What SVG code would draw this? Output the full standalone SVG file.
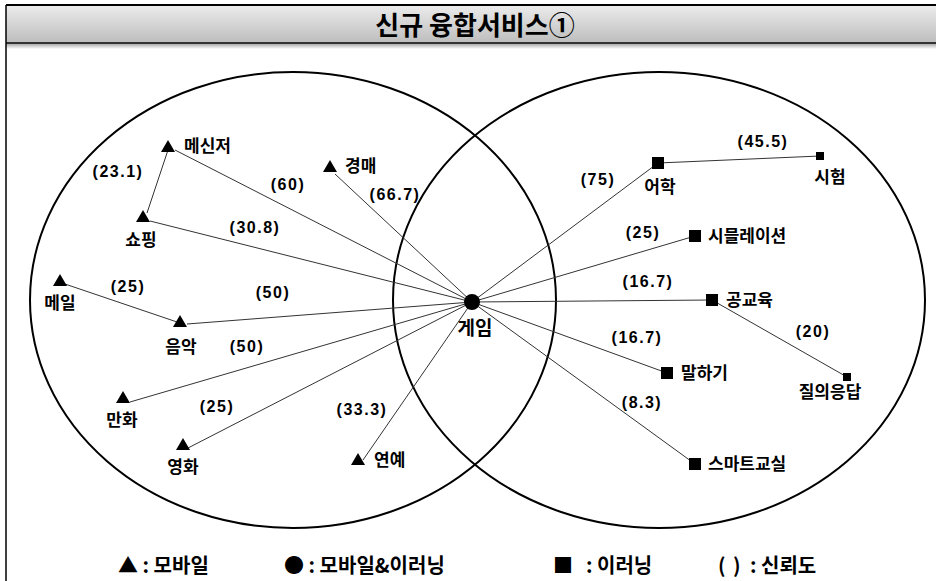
<svg xmlns="http://www.w3.org/2000/svg" xmlns:xlink="http://www.w3.org/1999/xlink" width="936" height="581" viewBox="0 0 936 581">
<defs>
<linearGradient id="bar" x1="0" y1="0" x2="0" y2="1">
<stop offset="0" stop-color="#ececec"/>
<stop offset="1" stop-color="#bdbdbd"/>
</linearGradient>
<linearGradient id="shadow" x1="0" y1="0" x2="0" y2="1">
<stop offset="0" stop-color="#9a9a9a"/>
<stop offset="1" stop-color="#ffffff"/>
</linearGradient>
<path id="tri" d="M0,-6 L7,6 L-7,6 Z" fill="#000"/>
<rect id="sq" x="-6" y="-6" width="12" height="12" fill="#000"/>
<rect id="sqs" x="-4" y="-4" width="8" height="8" fill="#000"/>
</defs>
<style>
text{font-family:"Noto Sans CJK KR","Liberation Sans",sans-serif;font-weight:bold;fill:#000}
.lbl{font-size:17px}
.num{font-size:16px;letter-spacing:1.5px;font-family:"Liberation Sans","Noto Sans CJK KR",sans-serif}
.leg{font-size:20px}
.ln{stroke:#333;stroke-width:1;fill:none}
.ell{stroke:#000;stroke-width:2;fill:none}
</style>
<rect width="936" height="581" fill="#fff"/>
<g id="title">
<rect x="6" y="5" width="932" height="38" fill="url(#bar)"/>
<rect x="6" y="43" width="932" height="6" fill="url(#shadow)"/>
<line x1="6" y1="5" x2="936" y2="5" stroke="#000" stroke-width="2"/>
<line x1="6" y1="43" x2="936" y2="43" stroke="#333" stroke-width="2"/>
<line x1="6" y1="5" x2="6" y2="581" stroke="#000" stroke-width="1.5"/>
<text x="475" y="35" text-anchor="middle" style="font-size:26px">신규 융합서비스①</text>
</g>
<g id="venn">
<ellipse class="ell" cx="293" cy="300" rx="263" ry="228"/>
<ellipse class="ell" cx="659" cy="300" rx="266" ry="228"/>
</g>
<g id="connectors">
<line class="ln" x1="175" y1="150" x2="472" y2="302"/>
<line class="ln" x1="168" y1="150" x2="147" y2="213"/>
<line class="ln" x1="335" y1="174" x2="472" y2="302"/>
<line class="ln" x1="150" y1="221" x2="472" y2="302"/>
<line class="ln" x1="62" y1="283" x2="180" y2="323"/>
<line class="ln" x1="187" y1="324" x2="472" y2="302"/>
<line class="ln" x1="130" y1="402" x2="472" y2="302"/>
<line class="ln" x1="188" y1="448" x2="472" y2="302"/>
<line class="ln" x1="363" y1="460" x2="472" y2="302"/>
<line class="ln" x1="658" y1="163" x2="472" y2="302"/>
<line class="ln" x1="658" y1="163" x2="820" y2="156"/>
<line class="ln" x1="695" y1="236" x2="472" y2="302"/>
<line class="ln" x1="712" y1="300" x2="472" y2="302"/>
<line class="ln" x1="712" y1="300" x2="847" y2="377"/>
<line class="ln" x1="667" y1="373" x2="472" y2="302"/>
<line class="ln" x1="695" y1="464" x2="472" y2="302"/>
</g>
<g id="labels">
<text class="num" x="118" y="177" text-anchor="middle">(23.1)</text>
<text class="num" x="288" y="190" text-anchor="middle">(60)</text>
<text class="num" x="395" y="200" text-anchor="middle">(66.7)</text>
<text class="num" x="255" y="233" text-anchor="middle">(30.8)</text>
<text class="num" x="128" y="292" text-anchor="middle">(25)</text>
<text class="num" x="273" y="298" text-anchor="middle">(50)</text>
<text class="num" x="247" y="352" text-anchor="middle">(50)</text>
<text class="num" x="217" y="412" text-anchor="middle">(25)</text>
<text class="num" x="362" y="415" text-anchor="middle">(33.3)</text>
<text class="num" x="598" y="185" text-anchor="middle">(75)</text>
<text class="num" x="763" y="147" text-anchor="middle">(45.5)</text>
<text class="num" x="643" y="238" text-anchor="middle">(25)</text>
<text class="num" x="648" y="287" text-anchor="middle">(16.7)</text>
<text class="num" x="813" y="337" text-anchor="middle">(20)</text>
<text class="num" x="637" y="343" text-anchor="middle">(16.7)</text>
<text class="num" x="642" y="408" text-anchor="middle">(8.3)</text>
</g>
<g id="n-game"><circle cx="472" cy="302" r="8" fill="#000"/><text class="lbl" x="475" y="335" text-anchor="middle" style="font-size:19px">게임</text></g>
<g id="n-messenger"><use xlink:href="#tri" x="168" y="146"/><text class="lbl" x="184" y="152">메신저</text></g>
<g id="n-auction"><use xlink:href="#tri" x="330" y="166"/><text class="lbl" x="345" y="172">경매</text></g>
<g id="n-shopping"><use xlink:href="#tri" x="143" y="216"/><text class="lbl" x="141" y="246" text-anchor="middle">쇼핑</text></g>
<g id="n-mail"><use xlink:href="#tri" x="60" y="280"/><text class="lbl" x="60" y="309" text-anchor="middle">메일</text></g>
<g id="n-music"><use xlink:href="#tri" x="180" y="321"/><text class="lbl" x="181" y="353" text-anchor="middle">음악</text></g>
<g id="n-comic"><use xlink:href="#tri" x="123" y="397"/><text class="lbl" x="122" y="426" text-anchor="middle">만화</text></g>
<g id="n-movie"><use xlink:href="#tri" x="183" y="444"/><text class="lbl" x="183" y="473" text-anchor="middle">영화</text></g>
<g id="n-ent"><use xlink:href="#tri" x="358" y="459"/><text class="lbl" x="374" y="466">연예</text></g>
<g id="n-lang"><use xlink:href="#sq" x="658" y="163"/><text class="lbl" x="660" y="193" text-anchor="middle">어학</text></g>
<g id="n-exam"><use xlink:href="#sqs" x="820" y="156"/><text class="lbl" x="830" y="183" text-anchor="middle">시험</text></g>
<g id="n-sim"><use xlink:href="#sq" x="695" y="236"/><text class="lbl" x="708" y="242">시믈레이션</text></g>
<g id="n-public"><use xlink:href="#sq" x="712" y="300"/><text class="lbl" x="726" y="306">공교육</text></g>
<g id="n-qa"><use xlink:href="#sqs" x="847" y="377"/><text class="lbl" x="830" y="398" text-anchor="middle">질의응답</text></g>
<g id="n-speak"><use xlink:href="#sq" x="667" y="373"/><text class="lbl" x="681" y="379">말하기</text></g>
<g id="n-smart"><use xlink:href="#sq" x="695" y="464"/><text class="lbl" x="708" y="470">스마트교실</text></g>
<g id="legend">
<text class="leg" x="118" y="573">▲ : 모바일</text>
<text class="leg" x="284" y="573">● : 모바일&amp;이러닝</text>
<text class="leg" y="573"><tspan x="553">■</tspan><tspan x="586">: 이러닝</tspan></text>
<text class="leg" y="573"><tspan x="718">(</tspan><tspan x="733">)</tspan><tspan x="750">: 신뢰도</tspan></text>
</g>
</svg>
